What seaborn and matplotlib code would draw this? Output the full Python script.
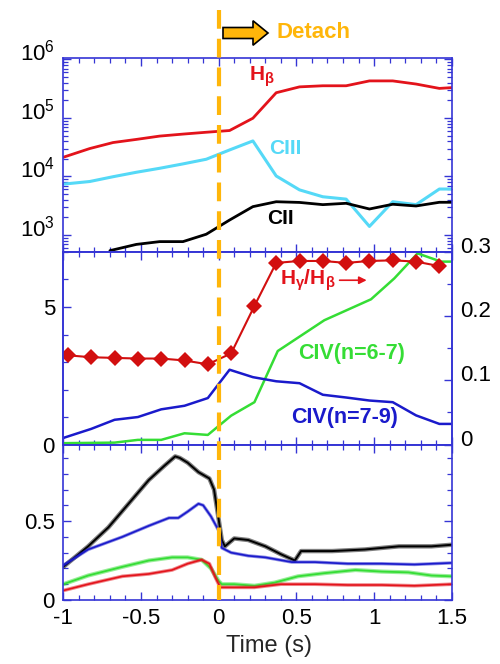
import matplotlib
matplotlib.use("Agg")
import matplotlib.pyplot as plt
import matplotlib.transforms as mtransforms
from matplotlib.ticker import MultipleLocator, LogLocator, NullFormatter, FixedLocator
from matplotlib.lines import Line2D
from matplotlib.patches import FancyArrow
import seaborn as sns

# ---------------- data ----------------
# top panel (log)
t_top = [-1.0, -0.83, -0.68, -0.53, -0.38, -0.23, -0.08, 0.07, 0.22, 0.37,
         0.52, 0.67, 0.82, 0.97, 1.12, 1.27, 1.42, 1.5]
hbeta = [2.13e4, 3.0e4, 3.8e4, 4.3e4, 4.9e4, 5.3e4, 5.7e4, 6.1e4, 9.9e4, 2.7e5,
         3.4e5, 3.55e5, 3.55e5, 4.3e5, 4.3e5, 3.8e5, 3.2e5, 3.3e5]
ciii = [7.4e3, 8.2e3, 9.9e3, 1.18e4, 1.38e4, 1.64e4, 1.97e4, 2.84e4, 4.05e4, 1.02e4,
        5.9e3, 4.5e3, 4.1e3, 1.4e3, 3.7e3, 3.3e3, 6.1e3, 6.1e3]
t_cii = [-0.70, -0.53, -0.38, -0.23, -0.08, 0.07, 0.22, 0.37, 0.52, 0.67,
         0.82, 0.97, 1.12, 1.27, 1.42, 1.5]
cii = [540, 690, 770, 770, 1030, 1800, 3050, 3700, 3600, 3300,
       3480, 2780, 3350, 3130, 3620, 3620]

# middle panel
t_ratio = [-0.97, -0.82, -0.67, -0.52, -0.37, -0.22, -0.07, 0.08, 0.23, 0.37,
           0.52, 0.67, 0.82, 0.97, 1.12, 1.27, 1.42]
ratio = [0.139, 0.136, 0.135, 0.134, 0.134, 0.131, 0.125, 0.142, 0.216, 0.283,
         0.286, 0.286, 0.283, 0.286, 0.287, 0.285, 0.278]
t_civ67 = [-1.0, -0.67, -0.52, -0.37, -0.22, -0.07, 0.08, 0.23, 0.38, 0.68,
           0.98, 1.13, 1.28, 1.43, 1.5]
civ67 = [0.05, 0.07, 0.17, 0.17, 0.41, 0.35, 1.05, 1.54, 3.40, 4.52,
         5.28, 6.04, 6.95, 6.65, 6.65]
t_civ79 = [-1.0, -0.82, -0.67, -0.52, -0.37, -0.22, -0.07, 0.07, 0.22, 0.37,
           0.52, 0.67, 0.82, 0.97, 1.12, 1.27, 1.42, 1.5]
civ79 = [0.24, 0.57, 0.90, 1.0, 1.28, 1.41, 1.69, 2.72, 2.45, 2.30,
         2.23, 1.81, 1.71, 1.60, 1.54, 1.06, 0.75, 0.75]

# bottom panel
t_k = [-1.0, -0.84, -0.71, -0.58, -0.45, -0.35, -0.28, -0.25, -0.20, -0.13,
       -0.06, -0.03, 0.0, 0.02, 0.04, 0.10, 0.19, 0.30, 0.40, 0.49,
       0.53, 0.73, 0.94, 1.16, 1.37, 1.5]
v_k = [0.21, 0.34, 0.46, 0.61, 0.76, 0.85, 0.91, 0.90, 0.87, 0.81,
       0.77, 0.70, 0.51, 0.38, 0.34, 0.39, 0.38, 0.34, 0.29, 0.25,
       0.31, 0.31, 0.32, 0.34, 0.34, 0.35]
t_b = [-1.0, -0.84, -0.62, -0.45, -0.32, -0.26, -0.20, -0.13, -0.10, -0.05,
       0.0, 0.02, 0.08, 0.19, 0.30, 0.47, 0.62, 0.83, 1.05, 1.26, 1.5]
v_b = [0.22, 0.32, 0.40, 0.47, 0.52, 0.52, 0.56, 0.61, 0.60, 0.53,
       0.44, 0.33, 0.30, 0.28, 0.27, 0.24, 0.24, 0.23, 0.23, 0.225, 0.235]
t_g = [-1.0, -0.84, -0.62, -0.45, -0.30, -0.20, -0.11, -0.05, 0.0, 0.02,
       0.10, 0.23, 0.36, 0.51, 0.68, 0.88, 1.05, 1.22, 1.37, 1.5]
v_g = [0.10, 0.155, 0.21, 0.25, 0.27, 0.27, 0.255, 0.20, 0.12, 0.10,
       0.10, 0.09, 0.11, 0.15, 0.17, 0.19, 0.18, 0.175, 0.155, 0.15]
t_r = [-1.0, -0.84, -0.62, -0.45, -0.30, -0.20, -0.11, -0.06, -0.02, 0.01,
       0.10, 0.23, 0.40, 0.62, 0.83, 1.05, 1.26, 1.5]
v_r = [0.06, 0.10, 0.15, 0.165, 0.19, 0.23, 0.255, 0.23, 0.14, 0.08,
       0.08, 0.08, 0.10, 0.10, 0.095, 0.095, 0.09, 0.10]

# ---------------- style ----------------
sns.set_theme(style="white")
plt.rcParams["font.family"] = ["Liberation Sans", "DejaVu Sans"]
plt.rcParams["mathtext.fontset"] = "custom"
plt.rcParams["mathtext.rm"] = "Liberation Sans"
plt.rcParams["mathtext.it"] = "Liberation Sans:italic"
plt.rcParams["mathtext.bf"] = "Liberation Sans:bold"

SPINE = "#3535d5"
RED = "#e3131b"
DRED = "#d20f0f"
CYAN = "#55d9f7"
GREEN = "#35dd35"
BLUE = "#1a1acb"
ORANGE = "#FFB60A"
TICKFS = 16

fig = plt.figure(figsize=(5, 6.64), dpi=100)
L, W = 0.1266, 0.777
ax1 = fig.add_axes([L, 0.6205, W, 0.2929])
ax2 = fig.add_axes([L, 0.3305, W, 0.2900])
ax3 = fig.add_axes([L, 0.0964, W, 0.2341])
ax2r = ax2.twinx()

def style_axes(ax, top=True, left=True, right=True, bottom=True):
    for s in ax.spines.values():
        s.set_color(SPINE)
        s.set_linewidth(1.2)
    ax.tick_params(which="both", direction="in", colors=SPINE, labelcolor="black",
                   top=top, bottom=bottom, left=left, right=right,
                   labelsize=TICKFS, pad=6)
    ax.tick_params(which="major", length=6, width=1.0)
    ax.tick_params(which="minor", length=3.5, width=0.9)
    ax.set_xlim(-1, 1.5)
    ax.xaxis.set_major_locator(MultipleLocator(0.5))
    ax.xaxis.set_minor_locator(MultipleLocator(0.1))
    ax.set_xlabel("")
    ax.set_ylabel("")

def shift_labels(labels, dy_px):
    off = mtransforms.ScaledTranslation(0, dy_px / 100.0, fig.dpi_scale_trans)
    for lab in labels:
        lab.set_transform(lab.get_transform() + off)

# ---------------- top panel ----------------
sns.lineplot(x=t_top, y=hbeta, ax=ax1, color=RED, lw=2.0, estimator=None, sort=False)
sns.lineplot(x=t_top, y=ciii, ax=ax1, color=CYAN, lw=2.2, estimator=None, sort=False)
sns.lineplot(x=t_cii, y=cii, ax=ax1, color="black", lw=2.0, estimator=None, sort=False)
ax1.set_yscale("log")
ax1.set_ylim(512, 1.08e6)
style_axes(ax1)
ax1.yaxis.set_major_locator(FixedLocator([1e3, 1e4, 1e5, 1e6]))
ax1.yaxis.set_minor_locator(LogLocator(base=10, subs=range(2, 10), numticks=20))
ax1.yaxis.set_minor_formatter(NullFormatter())
ax1.set_yticklabels([r"$10^3$", r"$10^4$", r"$10^5$", r"$10^6$"])
ax1.tick_params(axis="x", labelbottom=False)
shift_labels(ax1.get_yticklabels(), 9)

ax1.text(0.28, 5.0e5, r"$\mathbf{H}_{\mathbf{\beta}}$", color=RED, fontsize=15,
         ha="center", va="center")
ax1.text(0.43, 2.95e4, "CIII", color=CYAN, fontsize=15, fontweight="bold",
         ha="center", va="center")
ax1.text(0.40, 1950, "CII", color="black", fontsize=15, fontweight="bold",
         ha="center", va="center")

# ---------------- middle panel ----------------
sns.lineplot(x=t_civ67, y=civ67, ax=ax2, color=GREEN, lw=1.8, estimator=None, sort=False)
sns.lineplot(x=t_civ79, y=civ79, ax=ax2, color=BLUE, lw=1.8, estimator=None, sort=False)
ax2.set_ylim(0, 7)
style_axes(ax2, right=False)
ax2.yaxis.set_major_locator(FixedLocator([0, 5]))
ax2.yaxis.set_minor_locator(MultipleLocator(1))
ax2.tick_params(axis="x", labelbottom=False)

sns.lineplot(x=t_ratio, y=ratio, ax=ax2r, color=DRED, lw=1.5, marker="D",
             markersize=8.5, markeredgewidth=0, estimator=None, sort=False)
ax2r.set_ylim(0, 0.3)
style_axes(ax2r, left=False, top=False, bottom=False)
ax2r.set_yticks([0, 0.1, 0.2, 0.3])
ax2r.yaxis.set_minor_locator(MultipleLocator(0.05))
ax2r.set_yticklabels(["0", "0.1", "0.2", "0.3"])
ax2r.set_ylabel("")
shift_labels(ax2r.get_yticklabels(), 7)

ax2r.text(0.57, 0.256, r"$\mathbf{H}_{\mathbf{\gamma}}\mathbf{/H}_{\mathbf{\beta}}$",
          color=RED, fontsize=15, ha="center", va="center")
ax2r.annotate("", xy=(0.97, 0.256), xytext=(0.76, 0.256),
              arrowprops=dict(arrowstyle="-|>", color=RED, lw=1.2, mutation_scale=11))
ax2.text(0.857, 3.32, "CIV(n=6-7)", color=GREEN, fontsize=15.5, fontweight="bold",
         ha="center", va="center")
ax2.text(0.813, 0.98, "CIV(n=7-9)", color=BLUE, fontsize=15.5, fontweight="bold",
         ha="center", va="center")

# ---------------- bottom panel ----------------
for tt, vv, col, band, lw in [(t_k, v_k, "black", 3.2, 1.4), (t_b, v_b, BLUE, 2.4, 1.2),
                              (t_g, v_g, GREEN, 3.0, 1.3), (t_r, v_r, RED, 2.6, 1.2)]:
    sns.lineplot(x=tt, y=vv, ax=ax3, color=col, lw=band, alpha=0.5,
                 estimator=None, sort=False)
    sns.lineplot(x=tt, y=vv, ax=ax3, color=col, lw=lw, estimator=None, sort=False)
ax3.set_ylim(0, 0.985)
style_axes(ax3)
ax3.yaxis.set_major_locator(FixedLocator([0, 0.5]))
ax3.yaxis.set_minor_locator(MultipleLocator(0.1))
ax3.set_xticks([-1, -0.5, 0, 0.5, 1, 1.5])
ax3.set_xticklabels(["-1", "-0.5", "0", "0.5", "1", "1.5"])
ax3.set_yticklabels(["0", "0.5"])
ax3.set_xlabel("Time (s)", fontsize=17)
ax3.xaxis.set_label_coords(0.53, -0.225)

# ---------------- figure annotations ----------------
x0 = L + W * (0 - (-1)) / 2.5
fig.add_artist(Line2D([x0, x0], [1 - 10 / 664, 1 - 600 / 664], transform=fig.transFigure,
                      color=ORANGE, lw=3.0, linestyle=(0, (4.5, 2.4)), zorder=10))
arr = FancyArrow(2.23, 6.31, 0.45, 0, width=0.11, head_width=0.245, head_length=0.15,
                 length_includes_head=True, transform=fig.dpi_scale_trans,
                 facecolor=ORANGE, edgecolor="black", linewidth=1.2, zorder=11)
fig.add_artist(arr)
fig.text(2.76, 6.31, "Detach", transform=fig.dpi_scale_trans, color=ORANGE,
         fontsize=16, fontweight="bold", ha="left", va="center")

fig.savefig("out.png", dpi=100)
